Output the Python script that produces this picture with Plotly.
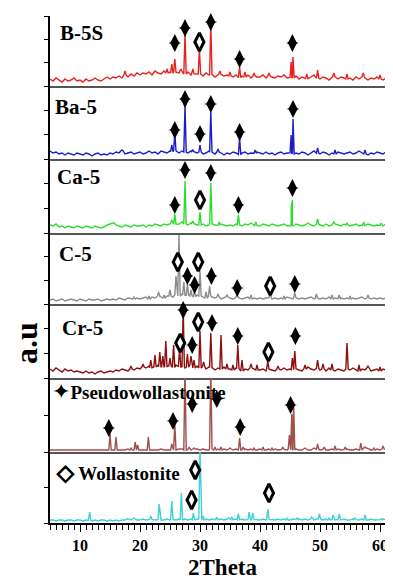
import numpy as np
import plotly.graph_objects as go
from plotly.subplots import make_subplots

# ---------------- data ----------------
sample_names = ["B-5S", "Ba-5", "Ca-5", "C-5", "Cr-5", "Pseudowollastonite", "Wollastonite"]
line_colors = ["#e8221e", "#1c1cc8", "#2fdc2f", "#8c8c8c", "#8b1010", "#a0504a", "#40d0d8"]
panel_heights = [70, 73, 74, 71, 74, 74, 71]   # intensity span of each panel (a.u.)

grid_start = 5.0
grid_step = 0.5

# background / noise level read every 0.5 deg from 5 to 62 deg
b5s_base = [7,5,8,6,4,7,5,6,8,5, 6,4,7,5,6,8,6,5,7,9, 7,9,8,10,8,11,9,12,10,13,
            11,13,12,14,11,15,13,12,15,13, 14,12,15,13,16,12,14,11,13,12, 12,10,13,11,12,9,11,12,10,11,
            10,9,11,8,10,9,11,8,10,9, 9,11,8,10,9,8,10,9,11,8, 9,8,10,7,9,8,7,9,11,8,
            7,9,8,6,8,10,7,9,8,7, 8,6,9,7,10,8,6,8,7,9, 7,6,8,6,7]
ba5_base = [8,6,7,5,6,4,6,5,4,6, 5,4,6,5,3,5,6,4,5,4, 6,5,7,6,8,5,6,7,5,6,
            7,5,6,8,6,7,5,8,7,6, 8,7,9,6,8,7,6,8,7,6, 7,5,6,8,6,5,7,6,4,6,
            5,7,6,4,6,7,5,6,5,7, 6,5,7,5,6,4,6,7,5,6, 7,5,6,5,7,6,4,6,8,6,
            5,7,6,4,6,5,7,6,5,6, 7,5,6,8,6,5,4,6,5,7, 6,5,7,5,6]
ca5_base = [8,7,9,6,7,5,7,6,5,7, 6,5,7,6,5,7,6,5,6,8, 9,10,8,7,6,8,7,6,8,7,
            7,8,6,8,7,9,8,7,9,8, 9,10,8,9,11,9,8,10,9,8, 8,9,7,8,10,8,7,9,8,7,
            8,7,9,8,7,9,8,10,8,7, 7,9,8,7,9,8,7,8,9,7, 8,7,9,8,7,8,10,8,7,9,
            8,7,9,7,8,10,8,7,9,8, 7,8,9,7,8,7,9,8,7,8, 8,7,9,7,8]
c5_base = [4,5,3,4,5,3,4,5,4,3, 5,4,3,5,4,4,5,3,4,5, 4,5,4,6,5,4,6,5,5,6,
           5,6,7,5,7,6,8,7,6,8, 8,7,9,8,10,8,9,8,7,9, 8,7,6,8,7,6,7,5,6,7,
           6,5,7,6,5,6,7,5,6,5, 6,5,6,7,5,6,5,6,5,7, 6,5,7,5,6,5,6,7,5,6,
           5,6,5,7,5,6,5,6,5,6, 5,6,5,6,7,5,6,5,6,5, 6,5,6,5,6]
cr5_base = [9,7,10,8,6,9,7,8,6,7, 6,5,7,5,6,4,6,7,5,6, 7,6,8,7,9,8,7,9,8,10,
            9,11,10,12,9,11,13,10,12,11, 12,10,13,11,12,10,11,13,10,12, 10,12,9,11,10,8,10,9,11,9,
            9,8,10,9,7,9,8,10,9,8, 8,9,7,10,8,7,9,8,10,8, 9,8,10,8,7,9,11,9,8,10,
            8,9,7,10,8,7,9,8,7,9, 8,10,8,7,9,8,10,7,8,9, 7,9,8,7,8]
pw_base = [2,2,2,2,2,2,2,2,2,2, 2,2,2,2,2,2,2,2,2,2, 2,2,2,2,2,2,3,2,2,2,
           2,2,2,2,2,2,2,3,2,2, 2,2,2,3,3,2,3,2,3,3, 2,3,2,2,4,2,3,2,3,2,
           3,2,3,2,2,3,2,3,2,2, 3,2,2,3,2,3,2,2,3,2, 3,2,3,2,2,3,2,2,4,3,
           2,3,2,2,3,2,3,2,2,3, 2,2,3,2,2,4,3,2,2,3, 2,3,2,2,2]
w_base = [3,3,2,3,3,2,3,3,2,3, 3,2,3,3,2,3,2,3,3,2, 3,2,3,2,3,3,4,3,4,3,
          3,4,3,3,4,3,4,3,3,4, 3,4,3,4,3,4,3,4,3,4, 4,3,4,3,4,4,3,4,3,4,
          4,3,4,3,4,3,4,3,4,3, 3,4,3,4,3,3,4,3,4,3, 3,4,3,4,3,4,3,4,3,4,
          4,3,4,3,4,3,4,3,4,3, 3,4,3,3,4,3,3,4,3,3, 3,4,3,3,3]

# diffraction peaks: position (2theta, deg) and top intensity
b5s_peak_x = [17.5, 24.5, 25.3, 25.8, 26.8, 27.5, 28.8, 29.9, 31.8, 33.3, 35.0, 36.6, 37.5, 39.0,
              41.5, 45.2, 45.5, 47.8, 49.6, 52.3, 54.5, 57.2, 60.0]
b5s_peak_y = [15, 17, 22, 27, 17, 52, 17, 37, 63, 15, 14, 19, 14, 13, 13, 24, 29, 12, 16, 13, 12, 13, 11]
ba5_peak_x = [17.0, 25.3, 25.8, 27.5, 28.8, 30.0, 31.8, 33.0, 36.6, 39.2, 45.2, 45.5, 49.6, 52.5, 57.5]
ba5_peak_y = [9, 14, 26, 53, 9, 14, 47, 10, 21, 9, 24, 40, 11, 9, 9]
ca5_peak_x = [15.5, 25.3, 25.8, 27.5, 28.8, 30.0, 31.8, 33.2, 36.4, 39.3, 45.2, 45.4, 49.6, 52.3,
              54.5, 57.3, 60.2]
ca5_peak_y = [10, 13, 19, 52, 12, 21, 50, 11, 18, 11, 26, 33, 14, 11, 10, 11, 10]
c5_peak_x = [19.0, 21.5, 23.1, 24.0, 25.0, 26.0, 26.5, 27.3, 27.9, 28.5, 29.1, 30.0, 31.0, 31.6,
             33.0, 34.5, 36.2, 38.5, 41.7, 44.0, 45.8, 49.4, 52.0, 53.2, 55.0, 58.0]
c5_peak_y = [7, 8, 12, 9, 14, 28, 69, 22, 20, 14, 13, 33, 12, 18, 10, 9, 11, 9, 10, 8, 11, 10, 9, 9, 8, 9]
cr5_peak_x = [18.5, 20.5, 21.8, 22.5, 23.3, 23.8, 24.3, 25.0, 25.6, 26.6, 27.2, 27.9, 28.5, 29.0,
              30.0, 30.6, 31.8, 33.5, 34.5, 35.5, 36.3, 37.0, 38.5, 39.5, 41.3, 43.0, 45.4, 45.8,
              47.5, 49.6, 50.5, 52.0, 54.5, 56.5, 58.0, 60.0]
cr5_peak_y = [12, 14, 18, 23, 26, 22, 37, 20, 33, 30, 69, 24, 22, 18, 47, 16, 45, 43, 14, 13, 33, 18,
              14, 13, 17, 12, 20, 27, 13, 18, 14, 14, 35, 13, 12, 11]
pw_peak_x = [15.0, 16.0, 18.5, 19.2, 19.6, 21.4, 25.3, 25.8, 27.5, 28.2, 29.0, 31.8, 32.5, 33.5, 35.0,
             36.6, 37.2, 39.0, 40.5, 42.0, 43.8, 44.9, 45.3, 45.6, 47.5, 49.6, 50.7, 52.5, 54.2,
             56.8, 57.5, 59.0, 60.5]
pw_peak_y = [18, 15, 4, 10, 7, 15, 8, 28, 85, 5, 4, 85, 5, 5, 4, 14, 5, 4, 5, 4, 5, 17, 38, 50, 4, 8,
             5, 6, 5, 9, 5, 4, 6]
w_peak_x = [11.6, 18.0, 19.0, 21.8, 23.2, 25.3, 26.9, 28.9, 30.0, 30.5, 32.8, 34.8, 35.3, 36.4, 38.2,
            38.8, 41.3, 44.5, 46.2, 48.6, 49.9, 51.5, 52.2, 53.2, 55.8, 57.5, 60.2, 61.3]
w_peak_y = [11, 4, 5, 7, 19, 22, 30, 10, 75, 7, 6, 5, 6, 9, 11, 10, 14, 5, 5, 6, 9, 5, 8, 9, 5, 8, 4, 4]

# phase identification symbols: pseudowollastonite (filled star), wollastonite (open diamond)
b5s_pw_x, b5s_pw_y = [25.8, 27.5, 31.8, 36.6, 45.4], [43, 58, 64, 27, 43]
b5s_w_x, b5s_w_y = [29.9], [44]
ba5_pw_x, ba5_pw_y = [25.8, 27.5, 30.0, 31.8, 36.6, 45.5], [29, 60, 25, 55, 27, 50]
ba5_w_x, ba5_w_y = [], []
ca5_pw_x, ca5_pw_y = [25.8, 27.5, 31.8, 36.4, 45.4], [28, 63, 60, 28, 45]
ca5_w_x, ca5_w_y = [30.0], [33]
c5_pw_x, c5_pw_y = [27.9, 29.1, 31.9, 36.2, 45.8], [28, 19, 28, 16, 20]
c5_w_x, c5_w_y = [26.3, 29.7, 41.7], [42, 42, 18]
cr5_pw_x, cr5_pw_y = [27.2, 28.7, 32.0, 36.3, 45.9], [68, 33, 55, 42, 42]
cr5_w_x, cr5_w_y = [26.7, 29.7, 41.4], [35, 56, 26]
pw_pw_x, pw_pw_y = [14.8, 25.5, 28.7, 32.8, 36.7, 45.1], [24, 31, 48, 53, 25, 47]
pw_w_x, pw_w_y = [], []
w_pw_x, w_pw_y = [], []
w_w_x, w_w_y = [28.6, 29.2, 41.5], [23, 53, 30]

x_tick_values = [10, 20, 30, 40, 50, 60]
x_tick_labels = ["10", "20", "30", "40", "50", "60"]

series = [
    (b5s_base, b5s_peak_x, b5s_peak_y, b5s_pw_x, b5s_pw_y, b5s_w_x, b5s_w_y),
    (ba5_base, ba5_peak_x, ba5_peak_y, ba5_pw_x, ba5_pw_y, ba5_w_x, ba5_w_y),
    (ca5_base, ca5_peak_x, ca5_peak_y, ca5_pw_x, ca5_pw_y, ca5_w_x, ca5_w_y),
    (c5_base, c5_peak_x, c5_peak_y, c5_pw_x, c5_pw_y, c5_w_x, c5_w_y),
    (cr5_base, cr5_peak_x, cr5_peak_y, cr5_pw_x, cr5_pw_y, cr5_w_x, cr5_w_y),
    (pw_base, pw_peak_x, pw_peak_y, pw_pw_x, pw_pw_y, pw_w_x, pw_w_y),
    (w_base, w_peak_x, w_peak_y, w_pw_x, w_pw_y, w_w_x, w_w_y),
]

# ---------------- build ----------------
FONT = "Liberation Serif, Times New Roman, serif"


def build_pattern(base, peak_x, peak_y, half=0.2):
    grid = grid_start + grid_step * np.arange(len(base))
    base = np.asarray(base, float)
    keep = np.ones(len(grid), bool)
    for p in peak_x:
        keep &= np.abs(grid - p) > half + 0.05
    xs = list(grid[keep])
    ys = list(base[keep])
    for p, h in zip(peak_x, peak_y):
        foot = float(np.interp(p, grid, base))
        xs += [p - half, p, p + half]
        ys += [foot, h, foot]
    order = np.argsort(xs, kind="stable")
    return np.array(xs)[order], np.array(ys)[order]


fig = make_subplots(rows=7, cols=1, shared_xaxes=True, vertical_spacing=0,
                    row_heights=panel_heights)

for i, (base, pkx, pky, pwx, pwy, wx, wy) in enumerate(series):
    row = i + 1
    x, y = build_pattern(base, pkx, pky)
    fig.add_trace(go.Scatter(x=x, y=y, mode="lines", name=sample_names[i],
                             line=dict(color=line_colors[i], width=1.4),
                             showlegend=False, hoverinfo="skip"), row=row, col=1)
    if pwx:
        # pseudowollastonite symbol: tall diamond body + four-pointed star arms
        fig.add_trace(go.Scatter(x=pwx, y=pwy, mode="markers", name="Pseudowollastonite",
                                 marker=dict(symbol="diamond-tall", size=13, color="black",
                                             line=dict(width=0)),
                                 cliponaxis=False, showlegend=False), row=row, col=1)
        fig.add_trace(go.Scatter(x=pwx, y=pwy, mode="markers", name="Pseudowollastonite",
                                 marker=dict(symbol="star-diamond", size=9, color="black",
                                             line=dict(width=0)),
                                 cliponaxis=False, showlegend=False), row=row, col=1)
    if wx:
        fig.add_trace(go.Scatter(x=wx, y=wy, mode="markers", name="Wollastonite",
                                 marker=dict(symbol="diamond-tall", size=13, color="white",
                                             line=dict(color="black", width=3)),
                                 cliponaxis=False, showlegend=False), row=row, col=1)

for i, h in enumerate(panel_heights):
    row = i + 1
    n = 3 if i < 5 else 2
    fig.update_yaxes(range=[0, h], tickvals=[h * k / n for k in range(n + 1)],
                     showticklabels=False, ticks="outside", ticklen=4, tickwidth=1,
                     tickcolor="black", showline=True, linecolor="black", linewidth=1.5,
                     showgrid=False, zeroline=False, fixedrange=True, row=row, col=1)
    last = row == 7
    fig.update_xaxes(range=[5, 62], showline=True,
                     linecolor="black" if last else "#555555",
                     linewidth=1.5 if last else 2,
                     showgrid=False, zeroline=False, row=row, col=1,
                     ticks="outside" if last else "",
                     showticklabels=last)

fig.update_xaxes(tickvals=x_tick_values, ticktext=x_tick_labels, ticklen=7, tickwidth=1,
                 tickcolor="black",
                 tickfont=dict(family=FONT, size=16, color="black", weight="bold"),
                 minor=dict(dtick=1, tick0=0, ticks="outside", ticklen=5, tickcolor="black",
                            tickwidth=1),
                 row=7, col=1)

# the page body has an 8 px margin, so the figure is drawn 8 px right/down
OFF = 8
W, H = 393 - OFF, 579 - OFF
PL, PR, PT, PB = 50, 392, 16, 523          # plot area in page pixels
ML, MR, MT, MB = PL - OFF, (W + OFF) - PR, PT - OFF, (H + OFF) - PB
pw, ph = PR - PL, PB - PT


def px(xp):
    return (xp - PL) / pw


def py(yp):
    return (PB - yp) / ph


label_pos = [(58, 33), (53, 107), (55, 177), (57, 254), (60, 328)]
annotations = []
for name, (lx, ly) in zip(sample_names[:5], label_pos):
    annotations.append(dict(text=name, x=px(lx), y=py(ly), xref="paper", yref="paper",
                            xanchor="left", yanchor="middle", showarrow=False,
                            font=dict(family=FONT, size=21, color="black", weight="bold")))
annotations.append(dict(
    text="<span style='font-family:DejaVu Sans;font-size:22px'>\u2726</span>Pseudowollastonite",
    x=px(50), y=py(391), xref="paper", yref="paper", xanchor="left", yanchor="middle",
    showarrow=False, font=dict(family=FONT, size=19, color="black", weight="bold")))
annotations.append(dict(
    text="<span style='font-family:DejaVu Sans;font-size:22px;stroke:#000000;stroke-width:1.2px'>"
         "\u25c7</span> Wollastonite",
    x=px(55), y=py(473), xref="paper", yref="paper", xanchor="left", yanchor="middle",
    showarrow=False, font=dict(family=FONT, size=19, color="black", weight="bold")))
annotations.append(dict(text="a.u", x=px(26), y=py(343), xref="paper", yref="paper",
                        xanchor="center", yanchor="middle", textangle=-90, showarrow=False,
                        font=dict(family=FONT, size=32, color="black", weight="bold")))
annotations.append(dict(text="2Theta", x=px(223), y=py(567), xref="paper", yref="paper",
                        xanchor="center", yanchor="middle", showarrow=False,
                        font=dict(family=FONT, size=23, color="black", weight="bold")))

fig.update_layout(width=W, height=H, margin=dict(l=ML, r=MR, t=MT, b=MB),
                  paper_bgcolor="white", plot_bgcolor="white", showlegend=False,
                  annotations=annotations)

fig.write_html("out.html")
